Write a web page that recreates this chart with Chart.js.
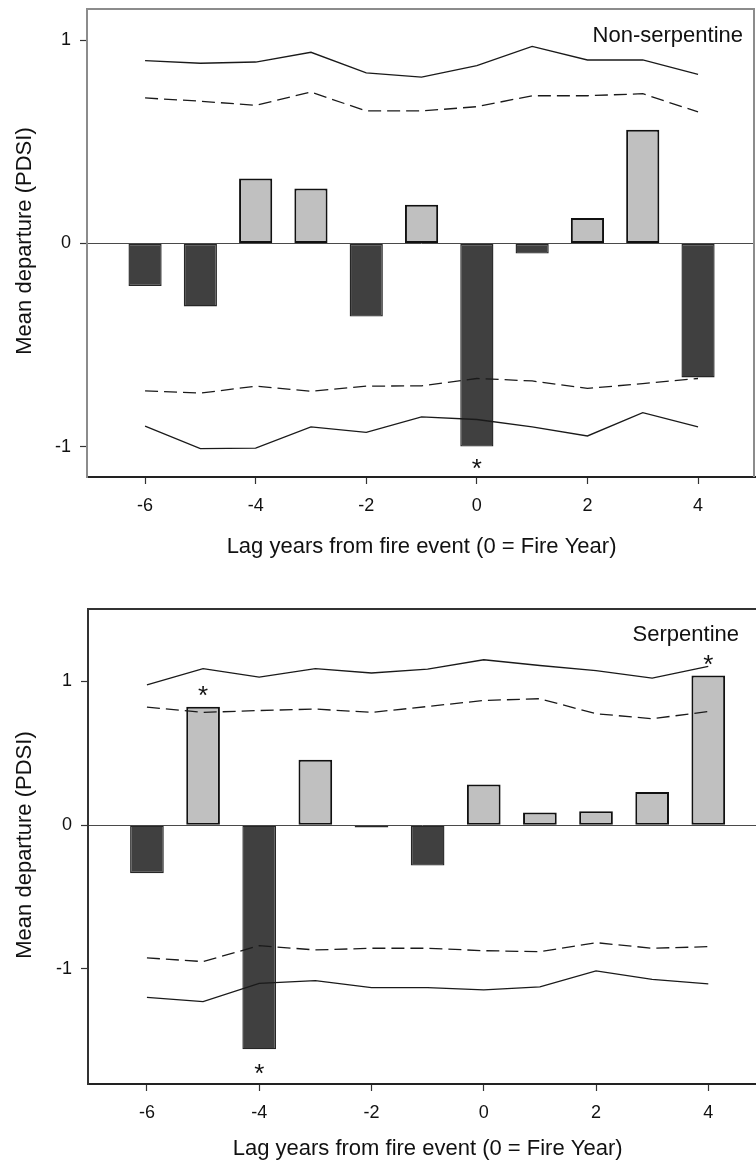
<!DOCTYPE html>
<html>
<head>
<meta charset="utf-8">
<script src="https://cdn.jsdelivr.net/npm/chart.js@4.4.0/dist/chart.umd.min.js"></script>
<style>
  html, body { margin: 0; padding: 0; background: #fff; }
  #wrap { position: relative; width: 756px; height: 1168px; overflow: hidden; }
  canvas { position: absolute; left: 0; display: block; }
  #c1 { top: 0; }
  #c2 { top: 580px; }
</style>
</head>
<body>
<div id="wrap">
  <canvas id="c1" width="756" height="580"></canvas>
  <canvas id="c2" width="756" height="588"></canvas>
</div>
<script>
// Lag years relative to the fire year
const lags = [-6, -5, -4, -3, -2, -1, 0, 1, 2, 3, 4];
const xTickValues = [-6, -4, -2, 0, 2, 4];
const yTickValues = [-1, 0, 1];

// Non-serpentine sites: mean PDSI departure and confidence bounds
const nsDeparture = [-0.21, -0.31, 0.32, 0.27, -0.36, 0.19, -1.00, -0.05, 0.125, 0.56, -0.66];
const nsUpper99 = [0.90, 0.887, 0.893, 0.941, 0.84, 0.819, 0.875, 0.97, 0.903, 0.903, 0.832];
const nsUpper95 = [0.716, 0.70, 0.68, 0.745, 0.652, 0.652, 0.673, 0.727, 0.727, 0.737, 0.647];
const nsLower95 = [-0.726, -0.737, -0.703, -0.728, -0.703, -0.701, -0.665, -0.677, -0.714, -0.69, -0.665];
const nsLower99 = [-0.90, -1.01, -1.008, -0.903, -0.93, -0.854, -0.867, -0.903, -0.948, -0.833, -0.903];
const nsSignificant = [0];

// Serpentine sites: mean PDSI departure and confidence bounds
const sDeparture = [-0.334, 0.823, -1.559, 0.454, -0.017, -0.281, 0.283, 0.088, 0.097, 0.23, 1.041];
const sUpper99 = [0.976, 1.088, 1.03, 1.088, 1.058, 1.085, 1.15, 1.11, 1.075, 1.023, 1.104];
const sUpper95 = [0.821, 0.784, 0.797, 0.807, 0.784, 0.825, 0.867, 0.879, 0.775, 0.74, 0.79];
const sLower95 = [-0.923, -0.949, -0.838, -0.868, -0.856, -0.856, -0.873, -0.88, -0.817, -0.856, -0.845];
const sLower99 = [-1.197, -1.227, -1.10, -1.081, -1.13, -1.13, -1.146, -1.125, -1.014, -1.072, -1.104];
const sSignificant = [-5, -4, 4];

const FONT = '"Liberation Sans", Arial, Helvetica, sans-serif';
const X_TITLE = 'Lag years from fire event (0 = Fire Year)';
const Y_TITLE = 'Mean departure (PDSI)';

// Frame lines, significance stars, panel label and axis titles
const decorations = {
  id: 'decorations',
  afterDatasetsDraw(chart, args, o) {
    const { ctx, chartArea: a, scales: { x } } = chart;
    ctx.save();
    ctx.strokeStyle = o.frameColor;
    ctx.lineWidth = 2;
    ctx.beginPath();
    ctx.moveTo(a.left - 1, a.top);
    ctx.lineTo(a.right, a.top);
    if (o.rightEdge) {
      ctx.moveTo(a.right - 1, a.top);
      ctx.lineTo(a.right - 1, a.bottom);
    }
    ctx.stroke();

    // stars beyond the end of significant bars
    const meta = chart.getDatasetMeta(0);
    ctx.fillStyle = '#111';
    ctx.font = `${o.starSize}px ${FONT}`;
    ctx.textAlign = 'center';
    ctx.textBaseline = 'alphabetic';
    o.significant.forEach(lag => {
      const i = lags.indexOf(lag);
      const el = meta.data[i];
      const v = o.values[i];
      const cy = v >= 0 ? el.y - o.starGap : el.y + o.starGap;
      ctx.fillText('*', el.x, cy + 0.58 * o.starSize);
    });

    // panel label
    ctx.font = `22px ${FONT}`;
    ctx.textAlign = 'right';
    ctx.fillText(o.label, o.labelX, o.labelY);

    // x-axis title, centred on the -7..5 lag frame
    ctx.textAlign = 'center';
    ctx.textBaseline = 'middle';
    ctx.fillText(X_TITLE, x.getPixelForValue(-1), o.xTitleY);

    // y-axis title
    ctx.translate(o.yTitleX, o.yTitleY);
    ctx.rotate(-Math.PI / 2);
    ctx.fillText(Y_TITLE, 0, 0);
    ctx.restore();
  }
};

function buildPanel(id, p) {
  const pts = arr => lags.map((lag, i) => ({ x: lag, y: arr[i] }));
  const line = (arr, dash) => ({
    type: 'line', data: pts(arr), borderColor: '#1a1a1a', borderWidth: 1.3,
    borderDash: dash, pointRadius: 0, fill: false, tension: 0, order: 0
  });
  return new Chart(document.getElementById(id), {
    type: 'bar',
    data: {
      datasets: [
        {
          type: 'bar', data: pts(p.values), order: 1,
          backgroundColor: c => (c.raw && c.raw.y < 0 ? '#404040' : '#c0c0c0'),
          borderColor: c => (c.raw && c.raw.y < 0 ? '#262626' : '#111'),
          borderWidth: c => (c.raw && c.raw.y < 0 ? 1.4 : 2),
          borderSkipped: false,
          categoryPercentage: 1, barPercentage: 0.6
        },
        line(p.upper99, []),
        line(p.upper95, [13, 6]),
        line(p.lower95, [13, 6]),
        line(p.lower99, [])
      ]
    },
    options: {
      responsive: false, animation: false, devicePixelRatio: 1,
      layout: { padding: { top: p.padTop, right: p.padRight, left: 0, bottom: 0 } },
      plugins: { legend: { display: false }, tooltip: { enabled: false }, decorations: p.deco },
      scales: {
        x: {
          type: 'linear', min: p.xMin, max: p.xMax, offset: false,
          afterBuildTicks: s => { s.ticks = xTickValues.map(v => ({ value: v })); },
          afterFit: s => { s.height = p.xAxisHeight; s.paddingLeft = 0; s.paddingRight = 0; },
          ticks: { callback: v => String(v), color: '#111', font: { family: FONT, size: 18 }, padding: 11, maxRotation: 0 },
          grid: { offset: false, drawOnChartArea: false, drawTicks: true, tickLength: 7, tickColor: '#333', tickWidth: 1.2 },
          border: { display: true, color: '#222', width: 2 }
        },
        y: {
          min: p.yMin, max: p.yMax,
          afterBuildTicks: s => { s.ticks = yTickValues.map(v => ({ value: v })); },
          afterFit: s => { s.width = p.yAxisWidth; s.paddingTop = 0; s.paddingBottom = 0; },
          ticks: { callback: v => String(v), color: '#111', font: { family: FONT, size: 18 }, padding: 9 },
          grid: {
            drawOnChartArea: true, drawTicks: true, tickLength: 7,
            color: c => (c.tick && c.tick.value === 0 ? '#4a4a4a' : 'rgba(0,0,0,0)'),
            lineWidth: 1, tickColor: '#333', tickWidth: 1.2
          },
          border: { display: true, color: p.leftColor, width: 2 }
        }
      }
    },
    plugins: [decorations]
  });
}

buildPanel('c1', {
  values: nsDeparture, upper99: nsUpper99, upper95: nsUpper95, lower95: nsLower95, lower99: nsLower99,
  xMin: -7.05, xMax: 5.03, yMin: -1.15, yMax: 1.154,
  padTop: 9, padRight: 1, xAxisHeight: 103, yAxisWidth: 87, leftColor: '#8c8c8c',
  deco: {
    frameColor: '#8c8c8c', rightEdge: true, significant: nsSignificant, values: nsDeparture,
    starSize: 26, starGap: 15, label: 'Non-serpentine', labelX: 743, labelY: 42,
    xTitleY: 547, yTitleX: 25, yTitleY: 241
  }
});

buildPanel('c2', {
  values: sDeparture, upper99: sUpper99, upper95: sUpper95, lower95: sLower95, lower99: sLower99,
  xMin: -7.05, xMax: 4.85, yMin: -1.80, yMax: 1.503,
  padTop: 29, padRight: 0, xAxisHeight: 84, yAxisWidth: 88, leftColor: '#333',
  deco: {
    frameColor: '#333', rightEdge: false, significant: sSignificant, values: sDeparture,
    starSize: 26, starGap: 18, label: 'Serpentine', labelX: 739, labelY: 61,
    xTitleY: 569, yTitleX: 25, yTitleY: 265
  }
});
</script>
</body>
</html>
